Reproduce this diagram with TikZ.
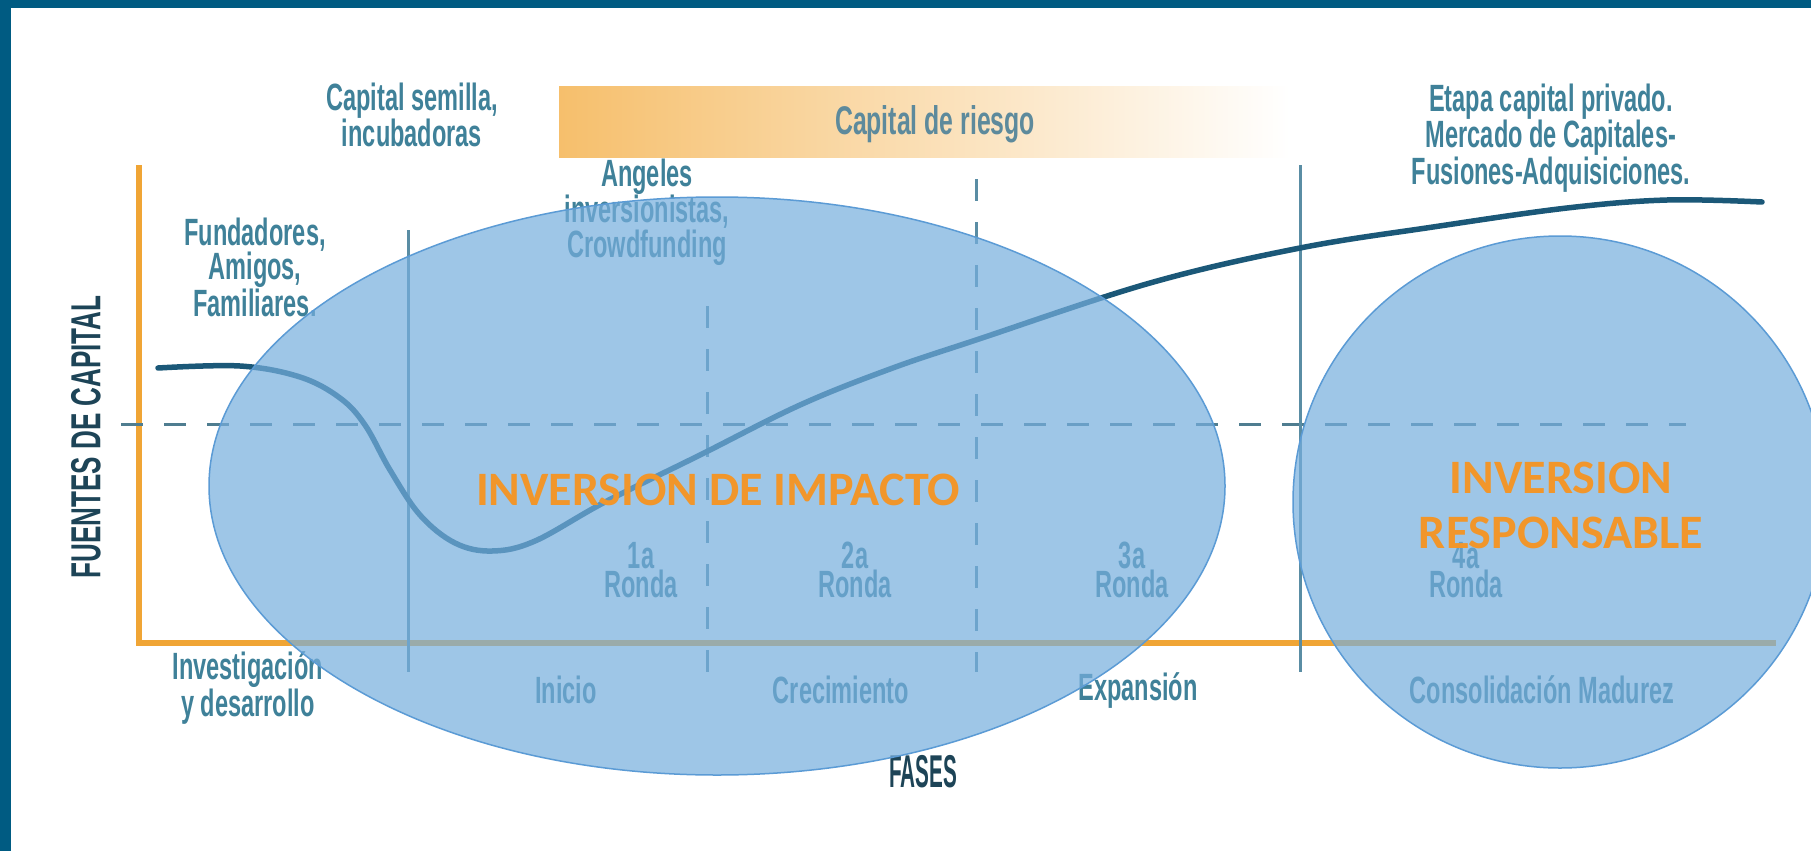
\documentclass[tikz,border=0pt]{standalone}
\usepackage{fontspec}
\newfontfamily\condf[FakeStretch=0.62]{Liberation Sans}
\newfontfamily\condx[FakeStretch=0.45]{Liberation Sans}
\newfontfamily\calib{Carlito}
\definecolor{framec}{HTML}{005B82}
\definecolor{lblc}{HTML}{3F8199}
\definecolor{darkc}{HTML}{1D4457}
\definecolor{axisc}{HTML}{F0A535}
\definecolor{vlinec}{HTML}{5A8DA4}
\definecolor{dashc}{HTML}{4F7D90}
\definecolor{curvec}{HTML}{1B5878}
\definecolor{ellF}{HTML}{76AEDD}
\definecolor{ellD}{HTML}{5B9BD5}
\definecolor{orangec}{HTML}{F1962B}
\definecolor{barL}{HTML}{F6BF6C}
\definecolor{barM}{HTML}{FBDDB0}
\definecolor{riskc}{HTML}{5D8A9C}
\tikzset{
  lbl/.style={font=\condf\bfseries\fontsize{38}{29}\selectfont, text=lblc, align=center, inner sep=0pt},
  axisline/.style={draw=axisc, line width=6pt},
  vline/.style={draw=vlinec, line width=3pt},
  vdash/.style={draw=vlinec, line width=3pt, dash pattern=on 22pt off 21pt},
  hdash/.style={draw=dashc, line width=3pt, dash pattern=on 22pt off 21pt},
  bubble/.style={fill=ellF, fill opacity=0.7, draw=none},
  bubbleline/.style={draw=ellD, line width=1.5pt},
  bigtxt/.style={font=\calib\bfseries\fontsize{48}{55}\selectfont, text=orangec, align=center, inner sep=0pt}
}
\begin{document}
\begin{tikzpicture}[x=1pt,y=-1pt]
\useasboundingbox (0,0) rectangle (1811,851);
\fill[white] (0,0) rectangle (1811,851);
% gradient bar
\shade[left color=barL, middle color=barM, right color=white] (559,86) rectangle (1290,157);
\node[lbl, text=riskc, font=\condf\bfseries\fontsize{40}{40}\selectfont] (riesgo) at (935,124) {Capital de riesgo};
% axes
\coordinate (ytop) at (139,165);
\coordinate (orig) at (139,643);
\coordinate (xend) at (1776,643);
\draw[axisline] (ytop) -- (orig) -- (xend);
% horizontal dashed
\coordinate (hd1) at (121,424);
\coordinate (hd2) at (1686,424);
\draw[hdash] (hd1) -- (hd2);
% vertical lines
\coordinate (v1t) at (408,230); \coordinate (v1b) at (408,672);
\coordinate (v2t) at (707,306); \coordinate (v2b) at (707,672);
\coordinate (v3t) at (976,179); \coordinate (v3b) at (976,672);
\coordinate (v4t) at (1300,165); \coordinate (v4b) at (1300,672);
\draw[vline] (v1t) -- (v1b);
\draw[vdash] (v2t) -- (v2b);
\draw[vdash] (v3t) -- (v3b);
\draw[vline] (v4t) -- (v4b);
% curve
\draw[curvec, line width=5.5pt, line cap=round] plot[smooth, tension=0.6] coordinates {
 (158,368) (240,366) (300,377) (340,398) (365,425) (390,470) (420,515) (455,543) (492,551) (535,541) (605,502) (700,455) (800,405) (890,369) (976,340) (1150,283) (1300,248) (1433,227) (1567,208) (1667,200) (1762,202)};
% labels
\node[lbl] (semilla) at (412,115) {Capital semilla,\\incubadoras};
\node[lbl] (fund) at (255,267) {Fundadores,\\Amigos,\\Familiares.};
\node[lbl] (angeles) at (647,212) {Angeles\\inversionistas,\\Crowdfunding};
\node[lbl, font=\condf\bfseries\fontsize{38}{27}\selectfont] (etapa) at (1551,138) {Etapa capital privado.\\Mercado de Capitales-\\Fusiones-Adquisiciones.};
\node[lbl, text=darkc, font=\condf\bfseries\fontsize{42}{42}\selectfont, rotate=90] (fuentes) at (86,437) {FUENTES DE CAPITAL};
\node[lbl] (r1) at (641,570) {1a\\Ronda};
\node[lbl] (r2) at (855,570) {2a\\Ronda};
\node[lbl] (r3) at (1132,570) {3a\\Ronda};
\node[lbl] (r4) at (1466,570) {4a\\Ronda};
\node[lbl] (invest) at (248,688) {Investigación\\y desarrollo};
\node[lbl] (inicio) at (566,690) {Inicio};
\node[lbl] (crec) at (841,690) {Crecimiento};
\node[lbl] (expan) at (1138,690) {Expansión};
\node[lbl] (conso) at (1542,690) {Consolidación Madurez};
\node[lbl, text=darkc, font=\condx\bfseries\fontsize{46}{46}\selectfont] (fases) at (923,772) {FASES};
% bubbles
\fill[bubble] (717,486) ellipse [x radius=508pt, y radius=289pt];
\draw[bubbleline] (717,486) ellipse [x radius=508pt, y radius=289pt];
\fill[bubble] (1560,502) ellipse [x radius=267pt, y radius=266pt];
\draw[bubbleline] (1560,502) ellipse [x radius=267pt, y radius=266pt];
\node[bigtxt] (impacto) at (718,490) {INVERSION DE IMPACTO};
\node[bigtxt] (respons) at (1561,505) {INVERSION\\RESPONSABLE};
% frame
\fill[framec] (0,0) rectangle (1811,8);
\fill[framec] (0,0) rectangle (11,851);
\end{tikzpicture}
\end{document}
